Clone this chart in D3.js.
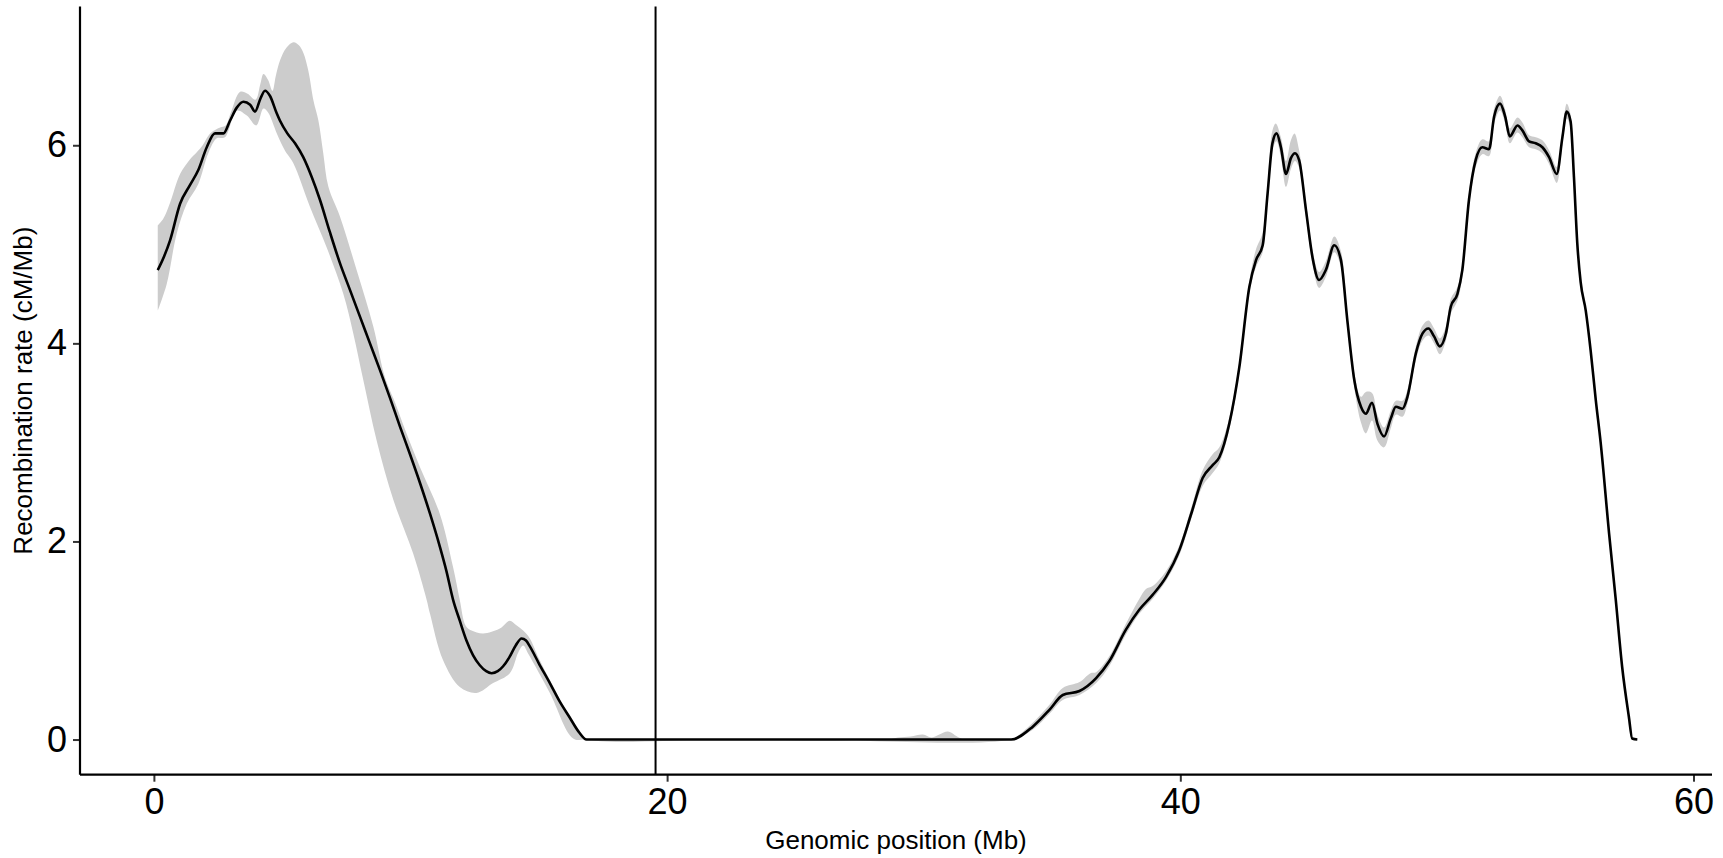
<!DOCTYPE html>
<html>
<head>
<meta charset="utf-8">
<script src="https://cdn.jsdelivr.net/npm/d3@7"></script>
<style>
  html, body { margin: 0; padding: 0; background: #fff; }
  svg { display: block; }
  text { font-family: "Liberation Sans", Arial, Helvetica, sans-serif; fill: #000; }
</style>
</head>
<body>
<svg id="chart" width="1723" height="858"></svg>
<script>
// ---- data ----
const posMb = [0.15,0.4,0.63,1.02,1.41,1.73,2.06,2.38,2.71,2.97,3.23,3.49,3.75,3.94,4.15,4.33,4.52,4.79,4.91,5.2,5.5,5.82,6.15,6.47,6.85,7.25,7.64,8.03,8.42,8.81,9.2,9.59,9.98,10.37,10.76,11.14,11.4,11.66,11.92,12.18,12.44,12.7,12.95,13.16,13.4,13.61,13.85,14.1,14.33,14.5,14.65,15.0,15.43,15.8,16.21,16.55,16.86,20,25,30,33.41,34.25,34.9,35.42,36.07,36.72,37.23,37.88,38.4,38.92,39.44,39.96,40.45,40.87,41.26,41.52,41.91,42.3,42.69,42.95,43.21,43.4,43.59,43.75,43.92,44.12,44.31,44.47,44.63,44.9,45.15,45.41,45.67,46.0,46.26,46.51,46.78,47.04,47.23,47.47,47.68,47.94,48.2,48.4,48.66,48.85,49.18,49.44,49.67,49.89,50.11,50.35,50.54,50.8,50.99,51.25,51.51,51.77,52.03,52.23,52.46,52.66,52.84,53.14,53.33,53.59,53.85,54.11,54.37,54.67,54.89,55.06,55.21,55.34,55.47,55.6,55.8,55.99,56.19,56.38,56.71,56.97,57.22,57.48,57.61,57.81];
const rate = [4.74,4.88,5.04,5.41,5.60,5.75,5.98,6.12,6.12,6.25,6.38,6.44,6.41,6.34,6.47,6.55,6.50,6.32,6.25,6.12,6.02,5.88,5.68,5.45,5.13,4.81,4.54,4.27,4.00,3.73,3.45,3.16,2.88,2.59,2.28,1.95,1.70,1.41,1.20,1.00,0.85,0.75,0.69,0.67,0.69,0.74,0.83,0.95,1.02,1.00,0.94,0.77,0.57,0.39,0.22,0.08,0.0,0,0,0,0,0.13,0.30,0.45,0.49,0.62,0.79,1.11,1.31,1.46,1.64,1.91,2.30,2.64,2.77,2.85,3.19,3.76,4.57,4.84,4.99,5.51,6.02,6.12,5.98,5.71,5.87,5.92,5.85,5.34,4.87,4.64,4.74,4.99,4.84,4.23,3.63,3.36,3.29,3.40,3.19,3.06,3.24,3.36,3.34,3.46,3.90,4.10,4.15,4.07,3.97,4.10,4.37,4.50,4.74,5.45,5.85,5.98,5.96,6.29,6.42,6.29,6.09,6.20,6.15,6.04,6.02,5.98,5.88,5.71,6.08,6.34,6.24,5.68,5.01,4.62,4.33,3.93,3.43,3.00,2.08,1.41,0.73,0.23,0.01,0];

// upper edge of the confidence band
const upperMb = [0.15,0.37,0.63,1.02,1.41,1.67,1.9,2.19,2.58,2.8,3.0,3.36,3.65,3.96,4.15,4.27,4.45,4.62,4.75,4.92,5.15,5.44,5.65,5.83,6.02,6.22,6.41,6.6,6.8,7.25,7.9,8.55,9.0,9.4,9.8,10.37,11.14,11.66,11.92,12.15,12.38,12.83,13.48,13.87,14.1,14.39,14.65,15.0,15.43,16.0,16.5,16.86,22,28.6,29.0,29.5,29.97,30.3,30.94,31.3,31.6,33.0,33.41,34.25,34.9,35.42,36.07,36.5,36.72,37.23,37.88,38.4,38.66,38.92,39.44,39.96,40.45,40.87,41.26,41.52,41.91,42.3,42.69,42.95,43.21,43.4,43.59,43.72,43.92,44.12,44.31,44.45,44.63,44.9,45.15,45.41,45.67,46.0,46.26,46.51,46.78,47.04,47.23,47.47,47.68,47.94,48.2,48.4,48.66,48.85,49.18,49.44,49.67,49.89,50.11,50.35,50.54,50.8,50.99,51.25,51.51,51.77,52.03,52.23,52.46,52.66,52.84,53.14,53.33,53.59,53.85,54.11,54.37,54.67,54.89,55.06,55.21,55.34,55.47,55.6,55.8,55.99,56.19,56.38,56.71,56.97,57.22,57.48,57.61,57.81];
const upperRate = [5.19,5.26,5.42,5.71,5.86,5.93,6.00,6.12,6.18,6.20,6.33,6.54,6.52,6.46,6.62,6.72,6.66,6.55,6.70,6.86,6.98,7.04,7.01,6.93,6.75,6.45,6.25,5.92,5.58,5.28,4.74,4.17,3.66,3.40,3.12,2.75,2.28,1.74,1.41,1.15,1.10,1.07,1.12,1.20,1.16,1.10,1.02,0.82,0.60,0.32,0.10,0.01,0,0,0.02,0.03,0.05,0.02,0.08,0.03,0,0,0,0.17,0.35,0.52,0.58,0.67,0.68,0.84,1.17,1.42,1.52,1.55,1.70,1.96,2.36,2.72,2.88,2.95,3.25,3.82,4.63,4.95,5.12,5.60,6.15,6.22,6.08,5.84,6.05,6.12,5.95,5.42,4.94,4.72,4.83,5.08,4.93,4.30,3.70,3.46,3.51,3.50,3.28,3.15,3.32,3.42,3.42,3.53,3.97,4.18,4.23,4.15,4.05,4.17,4.45,4.57,4.81,5.52,5.92,6.06,6.04,6.37,6.50,6.36,6.17,6.28,6.23,6.10,6.08,6.05,5.95,5.78,6.15,6.42,6.31,5.74,5.07,4.67,4.37,3.97,3.47,3.04,2.11,1.44,0.76,0.25,0.02,0];

// lower edge of the confidence band
const lowerMb = [0.15,0.5,0.89,1.28,1.73,2.12,2.45,2.77,3.23,3.62,3.99,4.27,4.45,4.79,5.1,5.43,6.08,6.73,7.38,7.77,8.16,8.68,9.33,10.1,10.63,10.76,11.27,11.92,12.57,13.22,13.87,14.2,14.39,14.6,15.43,16.34,16.86,25,33.41,34.25,34.9,35.42,36.07,36.72,37.23,37.88,38.4,38.92,39.44,39.96,40.45,40.87,41.26,41.52,41.91,42.3,42.69,42.95,43.21,43.4,43.59,43.75,43.92,44.12,44.31,44.47,44.63,44.9,45.15,45.41,45.67,46.0,46.26,46.51,46.78,47.04,47.23,47.47,47.68,47.94,48.2,48.4,48.66,48.85,49.18,49.44,49.67,49.89,50.11,50.35,50.54,50.8,50.99,51.25,51.51,51.77,52.03,52.23,52.46,52.66,52.84,53.14,53.33,53.59,53.85,54.11,54.37,54.67,54.89,55.06,55.21,55.34,55.47,55.6,55.8,55.99,56.19,56.38,56.71,56.97,57.22,57.48,57.61,57.81];
const lowerRate = [4.33,4.60,5.11,5.41,5.61,5.92,6.07,6.08,6.35,6.30,6.20,6.37,6.33,6.12,5.95,5.82,5.38,4.97,4.50,4.10,3.63,3.02,2.42,1.88,1.41,1.27,0.80,0.53,0.47,0.57,0.67,0.88,0.95,0.86,0.47,0.01,0,0,0,0.10,0.26,0.40,0.45,0.57,0.74,1.06,1.27,1.42,1.60,1.86,2.25,2.56,2.69,2.79,3.13,3.70,4.51,4.77,4.92,5.44,5.95,6.04,5.88,5.58,5.76,5.84,5.77,5.27,4.80,4.56,4.67,4.92,4.77,4.16,3.55,3.20,3.09,3.22,3.02,2.95,3.14,3.28,3.26,3.39,3.83,4.03,4.08,4.00,3.89,4.03,4.30,4.43,4.67,5.38,5.78,5.91,5.89,6.22,6.35,6.22,6.02,6.13,6.08,5.98,5.96,5.92,5.81,5.62,6.01,6.27,6.17,5.62,4.95,4.57,4.29,3.89,3.39,2.96,2.05,1.38,0.70,0.21,0,0];

const centromereMb = 19.55;
const xTicks = [0, 20, 40, 60];
const yTicks = [0, 2, 4, 6];
const xTitle = "Genomic position (Mb)";
const yTitle = "Recombination rate (cM/Mb)";

// ---- layout ----
const svg = d3.select("#chart");
const panel = { left: 80, right: 1712, top: 6.6, bottom: 774.7 };

const x = d3.scaleLinear().domain([-2.88, 60.72]).range([panel.left, panel.right]);
const y = d3.scaleLinear().domain([-0.355, 7.40]).range([panel.bottom, panel.top]);

// band
const bandLine = d3.line()
  .x(d => x(d[0])).y(d => y(d[1]))
  .curve(d3.curveCatmullRom.alpha(0.5));
const upPts = upperMb.map((m, i) => [m, upperRate[i]]);
const loPts = lowerMb.map((m, i) => [m, lowerRate[i]]).reverse();
const bandPath = bandLine(upPts) + "L" + bandLine(loPts).slice(1) + "Z";
svg.append("path")
  .attr("d", bandPath)
  .attr("fill", "#cccccc")
  .attr("stroke", "none");

// centromere line
svg.append("line")
  .attr("x1", x(centromereMb)).attr("x2", x(centromereMb))
  .attr("y1", panel.top).attr("y2", panel.bottom)
  .attr("stroke", "#000").attr("stroke-width", 2);

// rate line
const rateLine = d3.line()
  .x(d => x(d[0])).y(d => y(d[1]))
  .curve(d3.curveMonotoneX);
svg.append("path")
  .datum(posMb.map((m, i) => [m, rate[i]]))
  .attr("d", rateLine)
  .attr("fill", "none")
  .attr("stroke", "#000")
  .attr("stroke-width", 2.6)
  .attr("stroke-linejoin", "round");

// axes
const xAxis = d3.axisBottom(x).tickValues(xTicks).tickSize(7).tickPadding(7).tickFormat(d3.format("d"));
const yAxis = d3.axisLeft(y).tickValues(yTicks).tickSize(7).tickPadding(6).tickFormat(d3.format("d"));

const gx = svg.append("g").attr("transform", `translate(0,${panel.bottom})`).call(xAxis);
const gy = svg.append("g").attr("transform", `translate(${panel.left},0)`).call(yAxis);

[gx, gy].forEach(g => {
  g.select(".domain").remove();
  g.selectAll(".tick line").attr("stroke", "#333").attr("stroke-width", 2);
  g.selectAll(".tick text")
    .attr("fill", "#000")
    .style("font-family", '"Liberation Sans", Arial, sans-serif')
    .style("font-size", "36px");
});

// axis lines
svg.append("line")
  .attr("x1", panel.left).attr("x2", panel.right)
  .attr("y1", panel.bottom).attr("y2", panel.bottom)
  .attr("stroke", "#000").attr("stroke-width", 2.2);
svg.append("line")
  .attr("x1", panel.left).attr("x2", panel.left)
  .attr("y1", panel.top).attr("y2", panel.bottom)
  .attr("stroke", "#000").attr("stroke-width", 2.2);

// titles
svg.append("text")
  .attr("x", (panel.left + panel.right) / 2)
  .attr("y", 849)
  .attr("text-anchor", "middle")
  .style("font-size", "26px")
  .text(xTitle);

svg.append("text")
  .attr("transform", `translate(32,${(panel.top + panel.bottom) / 2}) rotate(-90)`)
  .attr("text-anchor", "middle")
  .style("font-size", "26px")
  .text(yTitle);
</script>
</body>
</html>
